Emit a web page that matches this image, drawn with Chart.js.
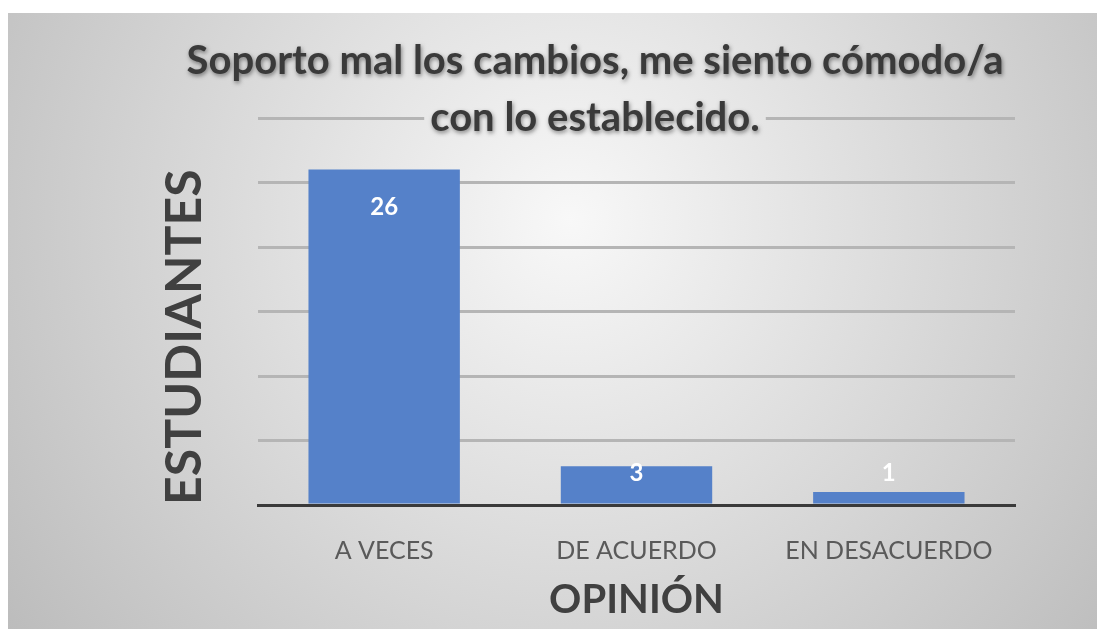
<!DOCTYPE html>
<html>
<head>
<meta charset="utf-8">
<script src="https://cdn.jsdelivr.net/npm/chart.js@4/dist/chart.umd.min.js"></script>
<style>
  html, body { margin: 0; padding: 0; background: #ffffff; }
  #wrap { width: 1097px; height: 629px; }
</style>
</head>
<body>
<div id="wrap"><canvas id="chart"></canvas></div>
<script>
// datos de la encuesta
const titleLines = ['Soporto mal los cambios, me siento cómodo/a', 'con lo establecido.'];
const categories = ['A VECES', 'DE ACUERDO', 'EN DESACUERDO'];
const students = [26, 3, 1];
const yTicks = [0, 5, 10, 15, 20, 25, 30];
const xAxisTitle = 'OPINIÓN';
const yAxisTitle = 'ESTUDIANTES';

Chart.defaults.font.family = 'Lato';

// fondo gris con degradado (como la diapositiva)
function bgGradient(ctx) {
    const g = ctx.createRadialGradient(570, 220, 0, 570, 220, 720);
    g.addColorStop(0, '#f8f8f8');
    g.addColorStop(1, '#bababa');
    return g;
}

const backgroundPlugin = {
    id: 'slideBackground',
    beforeDraw(chart) {
        const ctx = chart.ctx;
        ctx.save();
        ctx.fillStyle = '#ffffff';
        ctx.fillRect(0, 0, chart.width, chart.height);
        ctx.fillStyle = bgGradient(ctx);
        ctx.fillRect(8, 13, chart.width - 8, chart.height - 13);
        ctx.restore();
    }
};

// etiquetas de valor dentro de las barras
const valueLabels = {
    id: 'valueLabels',
    afterDatasetsDraw(chart) {
        const ctx = chart.ctx;
        const meta = chart.getDatasetMeta(0);
        ctx.save();
        ctx.font = 'bold 24px Lato';
        ctx.fillStyle = '#ffffff';
        ctx.textAlign = 'center';
        ctx.textBaseline = 'middle';
        meta.data.forEach((bar, i) => {
            const y = Math.min(bar.y + 38, chart.chartArea.bottom - 32);
            ctx.fillText(String(students[i]), bar.x, y);
        });
        ctx.restore();
    }
};

// título en dos líneas, encima de la línea de 30
const titlePlugin = {
    id: 'slideTitle',
    afterDraw(chart) {
        const ctx = chart.ctx;
        const cx = 595;
        const baselines = [74, 131];
        ctx.save();
        ctx.font = 'bold 40px Lato';
        ctx.textAlign = 'center';
        ctx.textBaseline = 'alphabetic';
        const w = ctx.measureText(titleLines[1]).width;
        ctx.fillStyle = bgGradient(ctx);
        ctx.fillRect(cx - w / 2 - 6, baselines[1] - 36, w + 12, 46);
        ctx.shadowColor = 'rgba(0, 0, 0, 0.45)';
        ctx.shadowBlur = 4;
        ctx.shadowOffsetX = 1;
        ctx.shadowOffsetY = 2;
        ctx.fillStyle = '#3a3a3a';
        titleLines.forEach((t, i) => ctx.fillText(t, cx, baselines[i]));
        ctx.restore();
    }
};

new Chart(document.getElementById('chart'), {
    type: 'bar',
    data: {
        labels: categories,
        datasets: [{
            data: students,
            backgroundColor: '#5581c9',
            barPercentage: 0.6,
            categoryPercentage: 1
        }]
    },
    options: {
        responsive: true,
        maintainAspectRatio: false,
        animation: false,
        layout: {
            padding: { top: 118, right: 82, bottom: 0, left: 0 }
        },
        plugins: {
            legend: { display: false },
            tooltip: { enabled: false },
            title: { display: false }
        },
        scales: {
            x: {
                grid: { display: false },
                border: { display: true, color: '#3a3a3a', width: 3, z: 1 },
                ticks: {
                    color: '#5a5a5a',
                    font: { size: 25 },
                    padding: 23
                },
                title: {
                    display: true,
                    text: xAxisTitle,
                    color: '#404040',
                    font: { size: 40, weight: 'bold' },
                    padding: { top: 0, bottom: 5 }
                },
                afterFit(scale) { scale.height = 124; }
            },
            y: {
                min: yTicks[0],
                max: yTicks[yTicks.length - 1],
                ticks: { display: false, stepSize: yTicks[1] - yTicks[0] },
                grid: { color: '#b5b5b5', lineWidth: 3, drawTicks: false },
                border: { display: false },
                title: {
                    display: true,
                    text: yAxisTitle,
                    align: 'start',
                    color: '#404040',
                    font: { size: 50, weight: 'bold' },
                    padding: { top: 155, bottom: 0 }
                },
                afterFit(scale) { scale.width = 258; }
            }
        }
    },
    plugins: [backgroundPlugin, valueLabels, titlePlugin]
});
</script>
</body>
</html>
